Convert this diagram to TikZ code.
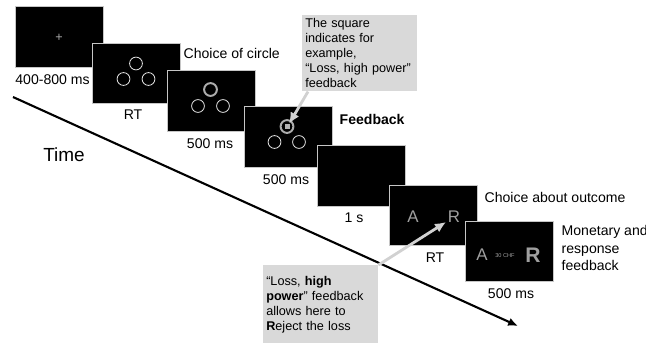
\documentclass[tikz,border=0pt]{standalone}
\usepackage{fontspec}
\setmainfont{Liberation Sans}
\usetikzlibrary{arrows.meta}

\tikzset{
	screen/.style={fill=black, draw=gray!45, line width=0.6pt, minimum width=2.2cm, minimum height=1.52cm, inner sep=0pt},
	ring/.style={circle, draw=gray!25, line width=0.6pt, minimum size=0.32cm, inner sep=0pt},
	thickring/.style={ring, draw=gray!65, line width=1.4pt},
	label/.style={font=\fontsize{10}{12}\selectfont, inner sep=1pt},
	letter/.style={text=gray!75, font=\fontsize{12}{12}\selectfont, inner sep=1pt},
	note/.style={fill=black!15, text width=2.72cm, inner xsep=0.075cm, inner ysep=0.05cm, align=left, font=\fontsize{9}{10.7}\selectfont},
	pointer/.style={draw=black!18, line width=2pt, -{Latex[length=8pt,width=7pt]}}
}

\begin{document}
\begin{tikzpicture}[x=0.025cm, y=-0.025cm]
		\useasboundingbox (0,0) rectangle (646,344);
		
		\node[screen] at (59.5,37) (s1) {};
		\node[screen] at (136,73.5) (s2) {};
		\node[screen] at (211,101) (s3) {};
		\node[screen] at (288,137) (s4) {};
		\node[screen] at (361,176) (s5) {};
		\node[screen] at (433.5,215.5) (s6) {};
		\node[screen] at (509,251.5) (s7) {};
		
		\node[text=gray!70, font=\fontsize{9}{9}\selectfont] at (59,37.5) (fix) {+};
		
		\node[ring] at (136,63.5) (c2a) {};
		\node[ring] at (123.5,79) (c2b) {};
		\node[ring] at (148.5,79) (c2c) {};
		
		\node[thickring] at (210.5,89.5) (c3a) {};
		\node[ring] at (198,106) (c3b) {};
		\node[ring] at (223,106) (c3c) {};
		
		\node[thickring] at (287,126.5) (c4a) {};
		\node[ring] at (274.5,142) (c4b) {};
		\node[ring] at (299,142) (c4c) {};
		\node[fill=gray!60, minimum size=0.12cm, inner sep=0pt] at (287.5,126.5) (sq) {};
		
		\node[letter] at (413,217) (a6) {A};
		\node[letter] at (454,217) (r6) {R};
		\node[letter] at (482,255) (a7) {A};
		\node[text=gray!75, font=\fontsize{4}{4}\selectfont, inner sep=0pt] at (505,255.5) (chf) {30 CHF};
		\node[letter, font=\fontsize{15}{15}\selectfont\bfseries] at (533,255) (r7) {R};
		
		\node[label] at (52.5,80) (t1) {400-800 ms};
		\node[label] at (133,115) (t2) {RT};
		\node[label, anchor=west] at (182,53) (t3) {Choice of circle};
		\node[label] at (210,144) (t4) {500 ms};
		\node[label, anchor=west, font=\fontsize{10}{12}\selectfont\bfseries] at (338,119) (t5) {Feedback};
		\node[label] at (286,180) (t6) {500 ms};
		\node[label] at (354,218) (t7) {1 s};
		\node[label, anchor=west] at (483,197) (t8) {Choice about outcome};
		\node[label] at (435,258) (t9) {RT};
		\node[label, anchor=west, align=left, font=\fontsize{10}{12.4}\selectfont] at (560,248) (t10) {Monetary and\\response\\feedback};
		\node[label] at (511,294) (t11) {500 ms};
		
		\node[font=\fontsize{13.5}{14}\selectfont] at (64,155) (time) {Time};
		\coordinate (start) at (13,97);
		\coordinate (end) at (518,326);
		\draw[line width=1.5pt, -{Latex[length=7pt,width=6pt]}] (start) -- (end);
		
		\node[note, anchor=north west, minimum height=1.9cm] at (302,15) (note1) {The square\\indicates for\\example,\\“Loss, high power”\\feedback};
		\node[note, anchor=north west, minimum height=1.95cm] at (263,265) (note2) {“Loss, \textbf{high}\\\textbf{power}” feedback\\allows here to\\\textbf{R}eject the loss};
		
		\draw[pointer] ([xshift=0.15cm]note1.south west) -- (sq);
		\draw[pointer] (note2.north east) -- (r6);
	\end{tikzpicture}
\end{document}
